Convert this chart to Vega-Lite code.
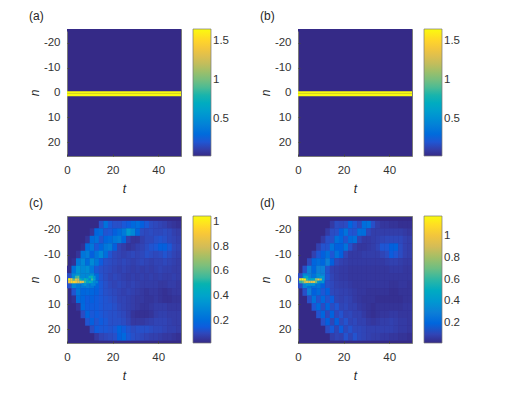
{"$schema":"https://vega.github.io/schema/vega-lite/v6.json","padding":{"left":27,"top":9,"right":0,"bottom":0},"background":"white",
"config":{"font":"Liberation Sans","view":{"stroke":"#7a7a7a","fill":"#352a87"},"title":{"font":"Liberation Sans","fontSize":12,"fontWeight":"normal","color":"#262626","anchor":"start","frame":"group","dx":-38,"offset":6},
"axis":{"grid":false,"domain":false,"labelFlush":false,"tickColor":"#444444","tickSize":-2,"labelFont":"Liberation Sans","labelFontSize":11.5,"labelColor":"#333333","titleFont":"Liberation Sans","titleFontSize":12,"titleFontStyle":"italic","titleFontWeight":"normal","titleColor":"#262626"},
"axisX":{"labelPadding":10,"titlePadding":8,"values":[0,20,40],"labelAngle":0},
"axisY":{"labelPadding":9,"titlePadding":2,"values":[-20,-10,0,10,20],"labelExpr":"''+datum.value"},
"legend":{"gradientLength":127,"gradientThickness":18,"gradientStrokeColor":"#7a7a7a","gradientStrokeWidth":0.7,"labelFont":"Liberation Sans","labelFontSize":11.5,"labelColor":"#333333","offset":12,"padding":0,"title":null,"labelOverlap":false}},
"columns":2,"spacing":{"row":1,"column":28},
"concat":[
{"width":114,"height":127,"title":"(a)","data":{"values":[{"t":25,"n":-25,"v":0.02},{"t":25,"n":0,"v":1.65},{"t":25,"n":1,"v":1.65}]},
"mark":{"type":"rect","width":114,"height":2.6,"clip":true},
"encoding":{"x":{"field":"t","type":"quantitative","scale":{"domain":[0,50]},"title":"t"},"y":{"field":"n","type":"quantitative","scale":{"domain":[-25.5,25.5],"reverse":true},"title":"n"},
"color":{"field":"v","type":"quantitative","scale":{"domain":[0.02,1.65],"range":["#352a87","#0f5cdd","#1481d6","#06a4ca","#2eb7a4","#87bf77","#d1bb59","#fec832","#f9fb0e"]},"legend":{"values":[0.5,1,1.5],"format":".1~f"}}}},
{"width":114,"height":127,"title":"(b)","data":{"values":[{"t":25,"n":-25,"v":0.02},{"t":25,"n":0,"v":1.65},{"t":25,"n":1,"v":1.65}]},
"mark":{"type":"rect","width":114,"height":2.6,"clip":true},
"encoding":{"x":{"field":"t","type":"quantitative","scale":{"domain":[0,50]},"title":"t"},"y":{"field":"n","type":"quantitative","scale":{"domain":[-25.5,25.5],"reverse":true},"title":"n"},
"color":{"field":"v","type":"quantitative","scale":{"domain":[0.02,1.65],"range":["#352a87","#0f5cdd","#1481d6","#06a4ca","#2eb7a4","#87bf77","#d1bb59","#fec832","#f9fb0e"]},"legend":{"values":[0.5,1,1.5],"format":".1~f"}}}},
{"width":114,"height":127,"title":"(c)",
"encoding":{"x":{"field":"t","type":"quantitative","scale":{"domain":[0,50]},"title":"t"},"y":{"field":"n","type":"quantitative","scale":{"domain":[-25.5,25.5],"reverse":true},"title":"n"},
"color":{"field":"v","type":"quantitative","scale":{"domain":[0.02,1.05],"range":["#352a87","#0f5cdd","#1481d6","#06a4ca","#2eb7a4","#87bf77","#d1bb59","#fec832","#f9fb0e"]},"legend":{"values":[0.2,0.4,0.6,0.8,1],"format":".1~f"}}},
"layer":[
{"mark":{"type":"rect","width":4.8,"height":7.7,"clip":true},"data":{"values":[
{"t":15,"n":-22,"v":0.12},{"t":17,"n":-22,"v":0.22},{"t":19,"n":-22,"v":0.14},{"t":21,"n":-22,"v":0.12},{"t":23,"n":-22,"v":0.12},{"t":25,"n":-22,"v":0.14},{"t":27,"n":-22,"v":0.15},{"t":29,"n":-22,"v":0.19},{"t":31,"n":-22,"v":0.21},{"t":33,"n":-22,"v":0.16},{"t":35,"n":-22,"v":0.14},{"t":37,"n":-22,"v":0.11},{"t":39,"n":-22,"v":0.1},{"t":41,"n":-22,"v":0.09},{"t":43,"n":-22,"v":0.08},{"t":45,"n":-22,"v":0.06},{"t":47,"n":-22,"v":0.05},{"t":49,"n":-22,"v":0.04},
{"t":11,"n":-19,"v":0.05},{"t":13,"n":-19,"v":0.18},{"t":15,"n":-19,"v":0.2},{"t":17,"n":-19,"v":0.13},{"t":19,"n":-19,"v":0.14},{"t":21,"n":-19,"v":0.16},{"t":23,"n":-19,"v":0.2},{"t":25,"n":-19,"v":0.25},{"t":27,"n":-19,"v":0.36},{"t":29,"n":-19,"v":0.3},{"t":31,"n":-19,"v":0.18},{"t":33,"n":-19,"v":0.11},{"t":35,"n":-19,"v":0.1},{"t":37,"n":-19,"v":0.11},{"t":39,"n":-19,"v":0.1},{"t":41,"n":-19,"v":0.1},{"t":43,"n":-19,"v":0.11},{"t":45,"n":-19,"v":0.1},{"t":47,"n":-19,"v":0.08},{"t":49,"n":-19,"v":0.07},
{"t":9,"n":-16,"v":0.05},{"t":11,"n":-16,"v":0.2},{"t":13,"n":-16,"v":0.22},{"t":15,"n":-16,"v":0.13},{"t":17,"n":-16,"v":0.18},{"t":19,"n":-16,"v":0.2},{"t":21,"n":-16,"v":0.24},{"t":23,"n":-16,"v":0.26},{"t":25,"n":-16,"v":0.18},{"t":27,"n":-16,"v":0.08},{"t":29,"n":-16,"v":0.05},{"t":31,"n":-16,"v":0.05},{"t":33,"n":-16,"v":0.08},{"t":35,"n":-16,"v":0.1},{"t":37,"n":-16,"v":0.1},{"t":39,"n":-16,"v":0.12},{"t":41,"n":-16,"v":0.13},{"t":43,"n":-16,"v":0.12},{"t":45,"n":-16,"v":0.1},{"t":47,"n":-16,"v":0.09},{"t":49,"n":-16,"v":0.08},
{"t":7,"n":-13,"v":0.04},{"t":9,"n":-13,"v":0.2},{"t":11,"n":-13,"v":0.24},{"t":13,"n":-13,"v":0.14},{"t":15,"n":-13,"v":0.18},{"t":17,"n":-13,"v":0.24},{"t":19,"n":-13,"v":0.26},{"t":21,"n":-13,"v":0.16},{"t":23,"n":-13,"v":0.09},{"t":25,"n":-13,"v":0.07},{"t":27,"n":-13,"v":0.05},{"t":29,"n":-13,"v":0.06},{"t":31,"n":-13,"v":0.08},{"t":33,"n":-13,"v":0.09},{"t":35,"n":-13,"v":0.11},{"t":37,"n":-13,"v":0.13},{"t":39,"n":-13,"v":0.14},{"t":41,"n":-13,"v":0.16},{"t":43,"n":-13,"v":0.16},{"t":45,"n":-13,"v":0.14},{"t":47,"n":-13,"v":0.1},{"t":49,"n":-13,"v":0.09},
{"t":5,"n":-10,"v":0.05},{"t":7,"n":-10,"v":0.23},{"t":9,"n":-10,"v":0.26},{"t":11,"n":-10,"v":0.16},{"t":13,"n":-10,"v":0.23},{"t":15,"n":-10,"v":0.3},{"t":17,"n":-10,"v":0.21},{"t":19,"n":-10,"v":0.13},{"t":21,"n":-10,"v":0.1},{"t":23,"n":-10,"v":0.09},{"t":25,"n":-10,"v":0.08},{"t":27,"n":-10,"v":0.09},{"t":29,"n":-10,"v":0.1},{"t":31,"n":-10,"v":0.09},{"t":33,"n":-10,"v":0.1},{"t":35,"n":-10,"v":0.12},{"t":37,"n":-10,"v":0.11},{"t":39,"n":-10,"v":0.1},{"t":41,"n":-10,"v":0.11},{"t":43,"n":-10,"v":0.13},{"t":45,"n":-10,"v":0.11},{"t":47,"n":-10,"v":0.09},{"t":49,"n":-10,"v":0.08},
{"t":3,"n":-7,"v":0.04},{"t":5,"n":-7,"v":0.24},{"t":7,"n":-7,"v":0.3},{"t":9,"n":-7,"v":0.2},{"t":11,"n":-7,"v":0.31},{"t":13,"n":-7,"v":0.24},{"t":15,"n":-7,"v":0.15},{"t":17,"n":-7,"v":0.12},{"t":19,"n":-7,"v":0.11},{"t":21,"n":-7,"v":0.1},{"t":23,"n":-7,"v":0.09},{"t":25,"n":-7,"v":0.1},{"t":27,"n":-7,"v":0.09},{"t":29,"n":-7,"v":0.08},{"t":31,"n":-7,"v":0.09},{"t":33,"n":-7,"v":0.1},{"t":35,"n":-7,"v":0.09},{"t":37,"n":-7,"v":0.08},{"t":39,"n":-7,"v":0.09},{"t":41,"n":-7,"v":0.09},{"t":43,"n":-7,"v":0.1},{"t":45,"n":-7,"v":0.09},{"t":47,"n":-7,"v":0.08},{"t":49,"n":-7,"v":0.07},
{"t":1,"n":-4,"v":0.03},{"t":3,"n":-4,"v":0.22},{"t":5,"n":-4,"v":0.34},{"t":7,"n":-4,"v":0.3},{"t":9,"n":-4,"v":0.32},{"t":11,"n":-4,"v":0.24},{"t":13,"n":-4,"v":0.14},{"t":15,"n":-4,"v":0.12},{"t":17,"n":-4,"v":0.11},{"t":19,"n":-4,"v":0.1},{"t":21,"n":-4,"v":0.09},{"t":23,"n":-4,"v":0.08},{"t":25,"n":-4,"v":0.09},{"t":27,"n":-4,"v":0.08},{"t":29,"n":-4,"v":0.07},{"t":31,"n":-4,"v":0.08},{"t":33,"n":-4,"v":0.07},{"t":35,"n":-4,"v":0.08},{"t":37,"n":-4,"v":0.07},{"t":39,"n":-4,"v":0.08},{"t":41,"n":-4,"v":0.09},{"t":43,"n":-4,"v":0.08},{"t":45,"n":-4,"v":0.08},{"t":47,"n":-4,"v":0.07},{"t":49,"n":-4,"v":0.07},
{"t":1,"n":-1,"v":0.12},{"t":3,"n":-1,"v":0.3},{"t":5,"n":-1,"v":0.35},{"t":7,"n":-1,"v":0.3},{"t":9,"n":-1,"v":0.3},{"t":11,"n":-1,"v":0.32},{"t":13,"n":-1,"v":0.2},{"t":15,"n":-1,"v":0.13},{"t":17,"n":-1,"v":0.11},{"t":19,"n":-1,"v":0.09},{"t":21,"n":-1,"v":0.1},{"t":23,"n":-1,"v":0.09},{"t":25,"n":-1,"v":0.08},{"t":27,"n":-1,"v":0.07},{"t":29,"n":-1,"v":0.08},{"t":31,"n":-1,"v":0.07},{"t":33,"n":-1,"v":0.08},{"t":35,"n":-1,"v":0.07},{"t":37,"n":-1,"v":0.08},{"t":39,"n":-1,"v":0.07},{"t":41,"n":-1,"v":0.08},{"t":43,"n":-1,"v":0.07},{"t":45,"n":-1,"v":0.07},{"t":47,"n":-1,"v":0.08},{"t":49,"n":-1,"v":0.07},
{"t":1,"n":2,"v":0.12},{"t":3,"n":2,"v":0.3},{"t":5,"n":2,"v":0.25},{"t":7,"n":2,"v":0.24},{"t":9,"n":2,"v":0.26},{"t":11,"n":2,"v":0.24},{"t":13,"n":2,"v":0.18},{"t":15,"n":2,"v":0.14},{"t":17,"n":2,"v":0.12},{"t":19,"n":2,"v":0.1},{"t":21,"n":2,"v":0.09},{"t":23,"n":2,"v":0.1},{"t":25,"n":2,"v":0.09},{"t":27,"n":2,"v":0.08},{"t":29,"n":2,"v":0.09},{"t":31,"n":2,"v":0.08},{"t":33,"n":2,"v":0.07},{"t":35,"n":2,"v":0.07},{"t":37,"n":2,"v":0.07},{"t":39,"n":2,"v":0.07},{"t":41,"n":2,"v":0.06},{"t":43,"n":2,"v":0.06},{"t":45,"n":2,"v":0.07},{"t":47,"n":2,"v":0.07},{"t":49,"n":2,"v":0.06},
{"t":3,"n":5,"v":0.13},{"t":5,"n":5,"v":0.24},{"t":7,"n":5,"v":0.18},{"t":9,"n":5,"v":0.19},{"t":11,"n":5,"v":0.18},{"t":13,"n":5,"v":0.16},{"t":15,"n":5,"v":0.14},{"t":17,"n":5,"v":0.12},{"t":19,"n":5,"v":0.11},{"t":21,"n":5,"v":0.1},{"t":23,"n":5,"v":0.09},{"t":25,"n":5,"v":0.08},{"t":27,"n":5,"v":0.09},{"t":29,"n":5,"v":0.08},{"t":31,"n":5,"v":0.07},{"t":33,"n":5,"v":0.06},{"t":35,"n":5,"v":0.05},{"t":37,"n":5,"v":0.06},{"t":39,"n":5,"v":0.06},{"t":41,"n":5,"v":0.05},{"t":43,"n":5,"v":0.04},{"t":45,"n":5,"v":0.05},{"t":47,"n":5,"v":0.06},{"t":49,"n":5,"v":0.06},
{"t":3,"n":8,"v":0.04},{"t":5,"n":8,"v":0.2},{"t":7,"n":8,"v":0.18},{"t":9,"n":8,"v":0.15},{"t":11,"n":8,"v":0.16},{"t":13,"n":8,"v":0.15},{"t":15,"n":8,"v":0.14},{"t":17,"n":8,"v":0.13},{"t":19,"n":8,"v":0.12},{"t":21,"n":8,"v":0.11},{"t":23,"n":8,"v":0.09},{"t":25,"n":8,"v":0.09},{"t":27,"n":8,"v":0.08},{"t":29,"n":8,"v":0.07},{"t":31,"n":8,"v":0.06},{"t":33,"n":8,"v":0.06},{"t":35,"n":8,"v":0.05},{"t":37,"n":8,"v":0.05},{"t":39,"n":8,"v":0.06},{"t":41,"n":8,"v":0.05},{"t":43,"n":8,"v":0.04},{"t":45,"n":8,"v":0.04},{"t":47,"n":8,"v":0.05},{"t":49,"n":8,"v":0.05},
{"t":5,"n":11,"v":0.05},{"t":7,"n":11,"v":0.19},{"t":9,"n":11,"v":0.15},{"t":11,"n":11,"v":0.15},{"t":13,"n":11,"v":0.15},{"t":15,"n":11,"v":0.14},{"t":17,"n":11,"v":0.13},{"t":19,"n":11,"v":0.13},{"t":21,"n":11,"v":0.12},{"t":23,"n":11,"v":0.1},{"t":25,"n":11,"v":0.09},{"t":27,"n":11,"v":0.08},{"t":29,"n":11,"v":0.07},{"t":31,"n":11,"v":0.06},{"t":33,"n":11,"v":0.05},{"t":35,"n":11,"v":0.05},{"t":37,"n":11,"v":0.06},{"t":39,"n":11,"v":0.07},{"t":41,"n":11,"v":0.07},{"t":43,"n":11,"v":0.07},{"t":45,"n":11,"v":0.06},{"t":47,"n":11,"v":0.06},{"t":49,"n":11,"v":0.06},
{"t":7,"n":14,"v":0.11},{"t":9,"n":14,"v":0.18},{"t":11,"n":14,"v":0.14},{"t":13,"n":14,"v":0.15},{"t":15,"n":14,"v":0.14},{"t":17,"n":14,"v":0.13},{"t":19,"n":14,"v":0.12},{"t":21,"n":14,"v":0.12},{"t":23,"n":14,"v":0.11},{"t":25,"n":14,"v":0.1},{"t":27,"n":14,"v":0.08},{"t":29,"n":14,"v":0.05},{"t":31,"n":14,"v":0.04},{"t":33,"n":14,"v":0.04},{"t":35,"n":14,"v":0.04},{"t":37,"n":14,"v":0.05},{"t":39,"n":14,"v":0.07},{"t":41,"n":14,"v":0.08},{"t":43,"n":14,"v":0.08},{"t":45,"n":14,"v":0.07},{"t":47,"n":14,"v":0.07},{"t":49,"n":14,"v":0.07},
{"t":9,"n":17,"v":0.13},{"t":11,"n":17,"v":0.16},{"t":13,"n":17,"v":0.13},{"t":15,"n":17,"v":0.15},{"t":17,"n":17,"v":0.14},{"t":19,"n":17,"v":0.12},{"t":21,"n":17,"v":0.12},{"t":23,"n":17,"v":0.12},{"t":25,"n":17,"v":0.11},{"t":27,"n":17,"v":0.09},{"t":29,"n":17,"v":0.06},{"t":31,"n":17,"v":0.06},{"t":33,"n":17,"v":0.06},{"t":35,"n":17,"v":0.07},{"t":37,"n":17,"v":0.08},{"t":39,"n":17,"v":0.09},{"t":41,"n":17,"v":0.09},{"t":43,"n":17,"v":0.09},{"t":45,"n":17,"v":0.08},{"t":47,"n":17,"v":0.07},{"t":49,"n":17,"v":0.07},
{"t":11,"n":20,"v":0.11},{"t":13,"n":20,"v":0.15},{"t":15,"n":20,"v":0.14},{"t":17,"n":20,"v":0.14},{"t":19,"n":20,"v":0.13},{"t":21,"n":20,"v":0.14},{"t":23,"n":20,"v":0.18},{"t":25,"n":20,"v":0.15},{"t":27,"n":20,"v":0.13},{"t":29,"n":20,"v":0.11},{"t":31,"n":20,"v":0.12},{"t":33,"n":20,"v":0.12},{"t":35,"n":20,"v":0.12},{"t":37,"n":20,"v":0.11},{"t":39,"n":20,"v":0.1},{"t":41,"n":20,"v":0.1},{"t":43,"n":20,"v":0.09},{"t":45,"n":20,"v":0.08},{"t":47,"n":20,"v":0.08},{"t":49,"n":20,"v":0.07},
{"t":13,"n":23,"v":0.06},{"t":15,"n":23,"v":0.09},{"t":17,"n":23,"v":0.1},{"t":19,"n":23,"v":0.11},{"t":21,"n":23,"v":0.12},{"t":23,"n":23,"v":0.16},{"t":25,"n":23,"v":0.19},{"t":27,"n":23,"v":0.14},{"t":29,"n":23,"v":0.12},{"t":31,"n":23,"v":0.11},{"t":33,"n":23,"v":0.1},{"t":35,"n":23,"v":0.09},{"t":37,"n":23,"v":0.08},{"t":39,"n":23,"v":0.08},{"t":41,"n":23,"v":0.07},{"t":43,"n":23,"v":0.06},{"t":45,"n":23,"v":0.06},{"t":47,"n":23,"v":0.05},{"t":49,"n":23,"v":0.04}
]}},
{"mark":{"type":"rect","width":2.4,"height":2.6,"clip":true},"data":{"values":[
{"t":1,"n":0,"v":1.05},{"t":2,"n":0,"v":0.9},{"t":3,"n":0,"v":0.6},{"t":4,"n":0,"v":0.85},{"t":5,"n":0,"v":0.8},{"t":6,"n":0,"v":0.5},{"t":7,"n":0,"v":0.35},{"t":8,"n":0,"v":0.5},{"t":9,"n":0,"v":0.45},{"t":10,"n":0,"v":0.3},{"t":11,"n":0,"v":0.55},{"t":12,"n":0,"v":0.4},
{"t":1,"n":1,"v":0.9},{"t":2,"n":1,"v":0.95},{"t":3,"n":1,"v":0.95},{"t":4,"n":1,"v":0.9},{"t":5,"n":1,"v":0.85},{"t":6,"n":1,"v":0.85},{"t":7,"n":1,"v":0.8},{"t":8,"n":1,"v":0.55},{"t":9,"n":1,"v":0.4},{"t":10,"n":1,"v":0.5},{"t":11,"n":1,"v":0.4},{"t":12,"n":1,"v":0.3},{"t":13,"n":1,"v":0.3},
{"t":3,"n":-1,"v":0.3},{"t":4,"n":-1,"v":0.55},{"t":5,"n":-1,"v":0.6},{"t":6,"n":-1,"v":0.3},{"t":9,"n":-1,"v":0.3},{"t":10,"n":-1,"v":0.45},{"t":11,"n":-1,"v":0.5},{"t":12,"n":-1,"v":0.35},
{"t":7,"n":2,"v":0.3},{"t":8,"n":2,"v":0.35},{"t":11,"n":2,"v":0.3},{"t":12,"n":2,"v":0.3}
]}}]},
{"width":114,"height":127,"title":"(d)",
"encoding":{"x":{"field":"t","type":"quantitative","scale":{"domain":[0,50]},"title":"t"},"y":{"field":"n","type":"quantitative","scale":{"domain":[-25.5,25.5],"reverse":true},"title":"n"},
"color":{"field":"v","type":"quantitative","scale":{"domain":[0.02,1.18],"range":["#352a87","#0f5cdd","#1481d6","#06a4ca","#2eb7a4","#87bf77","#d1bb59","#fec832","#f9fb0e"]},"legend":{"values":[0.2,0.4,0.6,0.8,1],"format":".1~f"}}},
"layer":[
{"mark":{"type":"rect","width":4.8,"height":7.7,"clip":true},"data":{"values":[
{"t":15,"n":-22,"v":0.07},{"t":17,"n":-22,"v":0.12},{"t":19,"n":-22,"v":0.11},{"t":21,"n":-22,"v":0.12},{"t":23,"n":-22,"v":0.2},{"t":25,"n":-22,"v":0.15},{"t":27,"n":-22,"v":0.11},{"t":29,"n":-22,"v":0.23},{"t":31,"n":-22,"v":0.25},{"t":33,"n":-22,"v":0.13},{"t":35,"n":-22,"v":0.08},{"t":37,"n":-22,"v":0.06},{"t":39,"n":-22,"v":0.06},{"t":41,"n":-22,"v":0.05},{"t":43,"n":-22,"v":0.05},{"t":45,"n":-22,"v":0.04},{"t":47,"n":-22,"v":0.04},{"t":49,"n":-22,"v":0.04},
{"t":13,"n":-19,"v":0.07},{"t":15,"n":-19,"v":0.12},{"t":17,"n":-19,"v":0.13},{"t":19,"n":-19,"v":0.18},{"t":21,"n":-19,"v":0.25},{"t":23,"n":-19,"v":0.15},{"t":25,"n":-19,"v":0.14},{"t":27,"n":-19,"v":0.24},{"t":29,"n":-19,"v":0.23},{"t":31,"n":-19,"v":0.11},{"t":33,"n":-19,"v":0.08},{"t":35,"n":-19,"v":0.08},{"t":37,"n":-19,"v":0.08},{"t":39,"n":-19,"v":0.08},{"t":41,"n":-19,"v":0.08},{"t":43,"n":-19,"v":0.08},{"t":45,"n":-19,"v":0.08},{"t":47,"n":-19,"v":0.07},{"t":49,"n":-19,"v":0.06},
{"t":11,"n":-16,"v":0.07},{"t":13,"n":-16,"v":0.13},{"t":15,"n":-16,"v":0.13},{"t":17,"n":-16,"v":0.24},{"t":19,"n":-16,"v":0.2},{"t":21,"n":-16,"v":0.14},{"t":23,"n":-16,"v":0.22},{"t":25,"n":-16,"v":0.24},{"t":27,"n":-16,"v":0.1},{"t":29,"n":-16,"v":0.07},{"t":31,"n":-16,"v":0.07},{"t":33,"n":-16,"v":0.08},{"t":35,"n":-16,"v":0.09},{"t":37,"n":-16,"v":0.1},{"t":39,"n":-16,"v":0.11},{"t":41,"n":-16,"v":0.11},{"t":43,"n":-16,"v":0.11},{"t":45,"n":-16,"v":0.11},{"t":47,"n":-16,"v":0.09},{"t":49,"n":-16,"v":0.08},
{"t":9,"n":-13,"v":0.09},{"t":11,"n":-13,"v":0.14},{"t":13,"n":-13,"v":0.14},{"t":15,"n":-13,"v":0.25},{"t":17,"n":-13,"v":0.18},{"t":19,"n":-13,"v":0.18},{"t":21,"n":-13,"v":0.25},{"t":23,"n":-13,"v":0.13},{"t":25,"n":-13,"v":0.08},{"t":27,"n":-13,"v":0.06},{"t":29,"n":-13,"v":0.06},{"t":31,"n":-13,"v":0.07},{"t":33,"n":-13,"v":0.08},{"t":35,"n":-13,"v":0.1},{"t":37,"n":-13,"v":0.15},{"t":39,"n":-13,"v":0.15},{"t":41,"n":-13,"v":0.18},{"t":43,"n":-13,"v":0.19},{"t":45,"n":-13,"v":0.12},{"t":47,"n":-13,"v":0.09},{"t":49,"n":-13,"v":0.08},
{"t":7,"n":-10,"v":0.09},{"t":9,"n":-10,"v":0.15},{"t":11,"n":-10,"v":0.18},{"t":13,"n":-10,"v":0.24},{"t":15,"n":-10,"v":0.15},{"t":17,"n":-10,"v":0.25},{"t":19,"n":-10,"v":0.18},{"t":21,"n":-10,"v":0.1},{"t":23,"n":-10,"v":0.07},{"t":25,"n":-10,"v":0.07},{"t":27,"n":-10,"v":0.07},{"t":29,"n":-10,"v":0.08},{"t":31,"n":-10,"v":0.08},{"t":33,"n":-10,"v":0.08},{"t":35,"n":-10,"v":0.08},{"t":37,"n":-10,"v":0.1},{"t":39,"n":-10,"v":0.12},{"t":41,"n":-10,"v":0.17},{"t":43,"n":-10,"v":0.15},{"t":45,"n":-10,"v":0.12},{"t":47,"n":-10,"v":0.09},{"t":49,"n":-10,"v":0.08},
{"t":5,"n":-7,"v":0.11},{"t":7,"n":-7,"v":0.2},{"t":9,"n":-7,"v":0.23},{"t":11,"n":-7,"v":0.2},{"t":13,"n":-7,"v":0.3},{"t":15,"n":-7,"v":0.18},{"t":17,"n":-7,"v":0.11},{"t":19,"n":-7,"v":0.09},{"t":21,"n":-7,"v":0.08},{"t":23,"n":-7,"v":0.07},{"t":25,"n":-7,"v":0.07},{"t":27,"n":-7,"v":0.07},{"t":29,"n":-7,"v":0.07},{"t":31,"n":-7,"v":0.07},{"t":33,"n":-7,"v":0.07},{"t":35,"n":-7,"v":0.07},{"t":37,"n":-7,"v":0.07},{"t":39,"n":-7,"v":0.08},{"t":41,"n":-7,"v":0.09},{"t":43,"n":-7,"v":0.09},{"t":45,"n":-7,"v":0.08},{"t":47,"n":-7,"v":0.07},{"t":49,"n":-7,"v":0.07},
{"t":3,"n":-4,"v":0.13},{"t":5,"n":-4,"v":0.3},{"t":7,"n":-4,"v":0.2},{"t":9,"n":-4,"v":0.3},{"t":11,"n":-4,"v":0.3},{"t":13,"n":-4,"v":0.14},{"t":15,"n":-4,"v":0.09},{"t":17,"n":-4,"v":0.08},{"t":19,"n":-4,"v":0.07},{"t":21,"n":-4,"v":0.07},{"t":23,"n":-4,"v":0.06},{"t":25,"n":-4,"v":0.06},{"t":27,"n":-4,"v":0.06},{"t":29,"n":-4,"v":0.06},{"t":31,"n":-4,"v":0.06},{"t":33,"n":-4,"v":0.06},{"t":35,"n":-4,"v":0.06},{"t":37,"n":-4,"v":0.06},{"t":39,"n":-4,"v":0.06},{"t":41,"n":-4,"v":0.07},{"t":43,"n":-4,"v":0.07},{"t":45,"n":-4,"v":0.07},{"t":47,"n":-4,"v":0.06},{"t":49,"n":-4,"v":0.06},
{"t":1,"n":-1,"v":0.12},{"t":3,"n":-1,"v":0.33},{"t":5,"n":-1,"v":0.3},{"t":7,"n":-1,"v":0.25},{"t":9,"n":-1,"v":0.36},{"t":11,"n":-1,"v":0.3},{"t":13,"n":-1,"v":0.15},{"t":15,"n":-1,"v":0.1},{"t":17,"n":-1,"v":0.08},{"t":19,"n":-1,"v":0.07},{"t":21,"n":-1,"v":0.07},{"t":23,"n":-1,"v":0.06},{"t":25,"n":-1,"v":0.06},{"t":27,"n":-1,"v":0.06},{"t":29,"n":-1,"v":0.06},{"t":31,"n":-1,"v":0.06},{"t":33,"n":-1,"v":0.06},{"t":35,"n":-1,"v":0.06},{"t":37,"n":-1,"v":0.06},{"t":39,"n":-1,"v":0.06},{"t":41,"n":-1,"v":0.06},{"t":43,"n":-1,"v":0.06},{"t":45,"n":-1,"v":0.06},{"t":47,"n":-1,"v":0.06},{"t":49,"n":-1,"v":0.06},
{"t":1,"n":2,"v":0.12},{"t":3,"n":2,"v":0.32},{"t":5,"n":2,"v":0.26},{"t":7,"n":2,"v":0.23},{"t":9,"n":2,"v":0.26},{"t":11,"n":2,"v":0.18},{"t":13,"n":2,"v":0.13},{"t":15,"n":2,"v":0.11},{"t":17,"n":2,"v":0.09},{"t":19,"n":2,"v":0.08},{"t":21,"n":2,"v":0.08},{"t":23,"n":2,"v":0.07},{"t":25,"n":2,"v":0.06},{"t":27,"n":2,"v":0.06},{"t":29,"n":2,"v":0.06},{"t":31,"n":2,"v":0.06},{"t":33,"n":2,"v":0.06},{"t":35,"n":2,"v":0.06},{"t":37,"n":2,"v":0.06},{"t":39,"n":2,"v":0.06},{"t":41,"n":2,"v":0.05},{"t":43,"n":2,"v":0.05},{"t":45,"n":2,"v":0.06},{"t":47,"n":2,"v":0.06},{"t":49,"n":2,"v":0.05},
{"t":3,"n":5,"v":0.13},{"t":5,"n":5,"v":0.3},{"t":7,"n":5,"v":0.18},{"t":9,"n":5,"v":0.22},{"t":11,"n":5,"v":0.15},{"t":13,"n":5,"v":0.18},{"t":15,"n":5,"v":0.11},{"t":17,"n":5,"v":0.1},{"t":19,"n":5,"v":0.09},{"t":21,"n":5,"v":0.09},{"t":23,"n":5,"v":0.08},{"t":25,"n":5,"v":0.07},{"t":27,"n":5,"v":0.06},{"t":29,"n":5,"v":0.06},{"t":31,"n":5,"v":0.05},{"t":33,"n":5,"v":0.05},{"t":35,"n":5,"v":0.05},{"t":37,"n":5,"v":0.05},{"t":39,"n":5,"v":0.05},{"t":41,"n":5,"v":0.04},{"t":43,"n":5,"v":0.04},{"t":45,"n":5,"v":0.05},{"t":47,"n":5,"v":0.05},{"t":49,"n":5,"v":0.05},
{"t":5,"n":8,"v":0.13},{"t":7,"n":8,"v":0.25},{"t":9,"n":8,"v":0.14},{"t":11,"n":8,"v":0.21},{"t":13,"n":8,"v":0.14},{"t":15,"n":8,"v":0.17},{"t":17,"n":8,"v":0.1},{"t":19,"n":8,"v":0.09},{"t":21,"n":8,"v":0.1},{"t":23,"n":8,"v":0.09},{"t":25,"n":8,"v":0.07},{"t":27,"n":8,"v":0.06},{"t":29,"n":8,"v":0.05},{"t":31,"n":8,"v":0.05},{"t":33,"n":8,"v":0.05},{"t":35,"n":8,"v":0.04},{"t":37,"n":8,"v":0.04},{"t":39,"n":8,"v":0.04},{"t":41,"n":8,"v":0.04},{"t":43,"n":8,"v":0.04},{"t":45,"n":8,"v":0.04},{"t":47,"n":8,"v":0.05},{"t":49,"n":8,"v":0.05},
{"t":7,"n":11,"v":0.15},{"t":9,"n":11,"v":0.22},{"t":11,"n":11,"v":0.12},{"t":13,"n":11,"v":0.2},{"t":15,"n":11,"v":0.12},{"t":17,"n":11,"v":0.15},{"t":19,"n":11,"v":0.1},{"t":21,"n":11,"v":0.11},{"t":23,"n":11,"v":0.09},{"t":25,"n":11,"v":0.09},{"t":27,"n":11,"v":0.07},{"t":29,"n":11,"v":0.06},{"t":31,"n":11,"v":0.05},{"t":33,"n":11,"v":0.04},{"t":35,"n":11,"v":0.05},{"t":37,"n":11,"v":0.05},{"t":39,"n":11,"v":0.05},{"t":41,"n":11,"v":0.05},{"t":43,"n":11,"v":0.05},{"t":45,"n":11,"v":0.05},{"t":47,"n":11,"v":0.06},{"t":49,"n":11,"v":0.06},
{"t":9,"n":14,"v":0.14},{"t":11,"n":14,"v":0.2},{"t":13,"n":14,"v":0.11},{"t":15,"n":14,"v":0.19},{"t":17,"n":14,"v":0.11},{"t":19,"n":14,"v":0.14},{"t":21,"n":14,"v":0.1},{"t":23,"n":14,"v":0.11},{"t":25,"n":14,"v":0.09},{"t":27,"n":14,"v":0.09},{"t":29,"n":14,"v":0.07},{"t":31,"n":14,"v":0.05},{"t":33,"n":14,"v":0.04},{"t":35,"n":14,"v":0.05},{"t":37,"n":14,"v":0.06},{"t":39,"n":14,"v":0.06},{"t":41,"n":14,"v":0.07},{"t":43,"n":14,"v":0.07},{"t":45,"n":14,"v":0.06},{"t":47,"n":14,"v":0.06},{"t":49,"n":14,"v":0.06},
{"t":11,"n":17,"v":0.13},{"t":13,"n":17,"v":0.18},{"t":15,"n":17,"v":0.1},{"t":17,"n":17,"v":0.18},{"t":19,"n":17,"v":0.11},{"t":21,"n":17,"v":0.14},{"t":23,"n":17,"v":0.1},{"t":25,"n":17,"v":0.11},{"t":27,"n":17,"v":0.09},{"t":29,"n":17,"v":0.09},{"t":31,"n":17,"v":0.07},{"t":33,"n":17,"v":0.06},{"t":35,"n":17,"v":0.07},{"t":37,"n":17,"v":0.08},{"t":39,"n":17,"v":0.08},{"t":41,"n":17,"v":0.09},{"t":43,"n":17,"v":0.08},{"t":45,"n":17,"v":0.07},{"t":47,"n":17,"v":0.07},{"t":49,"n":17,"v":0.06},
{"t":13,"n":20,"v":0.12},{"t":15,"n":20,"v":0.16},{"t":17,"n":20,"v":0.1},{"t":19,"n":20,"v":0.17},{"t":21,"n":20,"v":0.11},{"t":23,"n":20,"v":0.14},{"t":25,"n":20,"v":0.11},{"t":27,"n":20,"v":0.11},{"t":29,"n":20,"v":0.1},{"t":31,"n":20,"v":0.09},{"t":33,"n":20,"v":0.09},{"t":35,"n":20,"v":0.09},{"t":37,"n":20,"v":0.09},{"t":39,"n":20,"v":0.09},{"t":41,"n":20,"v":0.09},{"t":43,"n":20,"v":0.08},{"t":45,"n":20,"v":0.07},{"t":47,"n":20,"v":0.07},{"t":49,"n":20,"v":0.06},
{"t":15,"n":23,"v":0.08},{"t":17,"n":23,"v":0.1},{"t":19,"n":23,"v":0.09},{"t":21,"n":23,"v":0.14},{"t":23,"n":23,"v":0.1},{"t":25,"n":23,"v":0.14},{"t":27,"n":23,"v":0.11},{"t":29,"n":23,"v":0.1},{"t":31,"n":23,"v":0.09},{"t":33,"n":23,"v":0.08},{"t":35,"n":23,"v":0.08},{"t":37,"n":23,"v":0.07},{"t":39,"n":23,"v":0.07},{"t":41,"n":23,"v":0.06},{"t":43,"n":23,"v":0.06},{"t":45,"n":23,"v":0.05},{"t":47,"n":23,"v":0.05},{"t":49,"n":23,"v":0.04}
]}},
{"mark":{"type":"rect","width":2.4,"height":2.6,"clip":true},"data":{"values":[
{"t":1,"n":0,"v":1.1},{"t":2,"n":0,"v":1.18},{"t":3,"n":0,"v":1.12},{"t":4,"n":0,"v":0.6},{"t":5,"n":0,"v":0.45},{"t":6,"n":0,"v":0.5},{"t":7,"n":0,"v":0.5},{"t":8,"n":0,"v":0.75},{"t":9,"n":0,"v":1},{"t":10,"n":0,"v":0.8},{"t":11,"n":0,"v":0.4},
{"t":1,"n":1,"v":0.6},{"t":2,"n":1,"v":0.65},{"t":3,"n":1,"v":0.85},{"t":4,"n":1,"v":0.95},{"t":5,"n":1,"v":0.95},{"t":6,"n":1,"v":0.95},{"t":7,"n":1,"v":0.95},{"t":8,"n":1,"v":0.7},{"t":9,"n":1,"v":0.4},{"t":10,"n":1,"v":0.35},{"t":11,"n":1,"v":0.4},
{"t":3,"n":-1,"v":0.45},{"t":4,"n":-1,"v":0.5},{"t":9,"n":-1,"v":0.35},{"t":10,"n":-1,"v":0.4},{"t":11,"n":-1,"v":0.4},
{"t":4,"n":2,"v":0.4},{"t":5,"n":2,"v":0.4},{"t":6,"n":2,"v":0.4},{"t":7,"n":2,"v":0.4}
]}}]}
],
"resolve":{"scale":{"color":"independent"}}}
